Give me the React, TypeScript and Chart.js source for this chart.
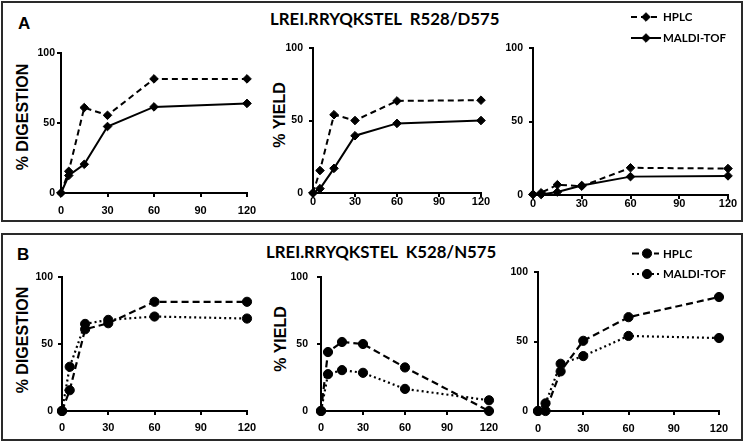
import React, { useEffect, useRef } from "react";
import { Chart, registerables } from "chart.js";

Chart.register(...registerables);

// ---------- data ----------
const times = [0, 5, 15, 30, 60, 120];
const xTickValues = [0, 30, 60, 90, 120];
const yTickValues = [0, 50, 100];
const seriesNames = ["HPLC", "MALDI-TOF"];

const aDigestionHplc = [0, 15.5, 61, 55.5, 81.5, 81.5];
const aDigestionMaldi = [0, 12.5, 20.5, 47.5, 61.5, 64];
const aYieldHplc = [0, 15.5, 54, 50, 63.5, 64];
const aYieldMaldi = [0, 3, 17, 39.5, 48, 50];
const aThirdHplc = [0.5, 1.5, 7, 6, 18.5, 18];
const aThirdMaldi = [0.5, 0.3, 2, 6.5, 12.5, 13];

const bDigestionHplc = [0, 15.5, 61, 65.5, 81.5, 81.5];
const bDigestionMaldi = [0, 33, 65, 68, 70.5, 69];
const bYieldHplc = [0, 44, 51.5, 50, 32.5, 0];
const bYieldMaldi = [0, 27.5, 30.5, 28.5, 16.5, 8];
const bThirdHplc = [0, 0, 28.5, 50.5, 67.5, 82];
const bThirdMaldi = [0, 5.5, 34, 39.5, 54, 52.5];

const panelATitle = "LREI.RRYQKSTEL  R528/D575";
const panelBTitle = "LREI.RRYQKSTEL  K528/N575";
const digestionLabel = "% DIGESTION";
const yieldLabel = "% YIELD";

// ---------- layout / style ----------
const W = 745;
const H = 442;
const YW = 50;
const XH = 25;
const AXIS_FONT = "'Liberation Sans', Arial, sans-serif";
const CAL_FONT = "Lato, 'Open Sans', sans-serif";

const styleA = {
  marker: "rectRot",
  radius: 4.3,
  lineWidth: 2,
  dashes: [[6, 4], []],
};
const styleB = {
  marker: "circle",
  radius: 4.6,
  lineWidth: 2.2,
  dashes: [[7, 4], [2, 3]],
};

const legendA = { rows: [17, 38], x0: 631, x1: 661, xm: 646, tx: 663, size: 11.5 };
const legendB = { rows: [253.5, 274], x0: 632, x1: 659, xm: 647, tx: 663, size: 11.5 };

const specs = [
  { series: [aDigestionHplc, aDigestionMaldi], style: styleA, area: { l: 61, r: 247, t: 53, b: 193 }, yPad: 2, xPad: 8.5, legend: null },
  { series: [aYieldHplc, aYieldMaldi], style: styleA, area: { l: 313, r: 481, t: 48, b: 193 }, yPad: 6, xPad: -1, legend: null },
  { series: [aThirdHplc, aThirdMaldi], style: styleA, area: { l: 533, r: 728, t: 48, b: 195 }, yPad: 6, xPad: -1, legend: legendA },
  { series: [bDigestionHplc, bDigestionMaldi], style: styleB, area: { l: 62, r: 247, t: 277, b: 411 }, yPad: 5, xPad: 7.5, legend: null },
  { series: [bYieldHplc, bYieldMaldi], style: styleB, area: { l: 321, r: 489, t: 277, b: 411 }, yPad: 9, xPad: 7, legend: null },
  { series: [bThirdHplc, bThirdMaldi], style: styleB, area: { l: 538, r: 719, t: 272, b: 411 }, yPad: 6, xPad: 8.5, legend: legendB },
];

function markerPath(ctx: CanvasRenderingContext2D, style: string, r: number, x: number, y: number) {
  ctx.beginPath();
  if (style === "circle") {
    ctx.arc(x, y, r, 0, Math.PI * 2);
  } else {
    ctx.moveTo(x - r, y);
    ctx.lineTo(x, y - r);
    ctx.lineTo(x + r, y);
    ctx.lineTo(x, y + r);
    ctx.closePath();
  }
}

const insetLegend = {
  id: "insetLegend",
  afterDraw(chart: any, _args: any, opts: any) {
    if (!opts || !opts.rows) return;
    const ctx: CanvasRenderingContext2D = chart.ctx;
    chart.data.datasets.forEach((ds: any, i: number) => {
      const y = opts.rows[i];
      ctx.save();
      ctx.strokeStyle = "#000";
      ctx.lineWidth = ds.borderWidth;
      ctx.setLineDash(ds.borderDash || []);
      ctx.beginPath();
      ctx.moveTo(opts.x0, y);
      ctx.lineTo(opts.x1, y);
      ctx.stroke();
      ctx.setLineDash([]);
      ctx.fillStyle = "#000";
      ctx.lineWidth = 1;
      markerPath(ctx, ds.pointStyle, ds.pointRadius, opts.xm, y);
      ctx.fill();
      ctx.stroke();
      ctx.font = `bold ${opts.size}px ${CAL_FONT}`;
      ctx.textBaseline = "alphabetic";
      ctx.textAlign = "left";
      ctx.fillText(ds.label, opts.tx, y + opts.size * 0.358);
      ctx.restore();
    });
  },
};

function makeConfig(spec: any): any {
  const st = spec.style;
  const datasets = spec.series.map((vals: number[], i: number) => ({
    label: seriesNames[i],
    data: times.map((t, k) => ({ x: t, y: vals[k] })),
    borderColor: "#000",
    backgroundColor: "#000",
    borderWidth: st.lineWidth,
    borderDash: st.dashes[i],
    pointStyle: st.marker,
    pointRadius: st.radius,
    pointBorderWidth: 1,
    pointBackgroundColor: "#000",
    pointBorderColor: "#000",
    tension: 0,
    fill: false,
    clip: false,
  }));
  const axisGrid = {
    display: true,
    drawOnChartArea: false,
    drawTicks: true,
    tickLength: 4,
    color: "#000",
    lineWidth: 2,
  };
  const axisBorder = { display: true, color: "#000", width: 2 };
  return {
    type: "line",
    data: { datasets },
    options: {
      animation: false,
      responsive: false,
      events: [],
      layout: {
        padding: {
          left: spec.area.l - YW,
          right: W - spec.area.r,
          top: spec.area.t,
          bottom: H - spec.area.b - XH,
        },
      },
      plugins: {
        legend: { display: false },
        tooltip: { enabled: false },
        title: { display: false },
        insetLegend: spec.legend ? spec.legend : false,
      },
      scales: {
        x: {
          type: "linear",
          min: 0,
          max: 120,
          afterFit: (s: any) => {
            s.height = XH;
          },
          afterBuildTicks: (s: any) => {
            s.ticks = xTickValues.map((v) => ({ value: v }));
          },
          ticks: {
            font: { family: AXIS_FONT, size: 11, weight: "bold", lineHeight: 1 },
            color: "#000",
            padding: spec.xPad,
            maxRotation: 0,
            autoSkip: false,
          },
          grid: axisGrid,
          border: axisBorder,
        },
        y: {
          type: "linear",
          min: 0,
          max: 100,
          afterFit: (s: any) => {
            s.width = YW;
          },
          afterBuildTicks: (s: any) => {
            s.ticks = yTickValues.map((v) => ({ value: v }));
          },
          ticks: {
            font: { family: AXIS_FONT, size: 10.5, weight: "bold", lineHeight: 1 },
            color: "#000",
            padding: spec.yPad,
            autoSkip: false,
          },
          grid: axisGrid,
          border: axisBorder,
        },
      },
    },
    plugins: [insetLegend],
  };
}

function PlotCanvas({ spec }: { spec: any }) {
  const ref = useRef<HTMLCanvasElement>(null);
  useEffect(() => {
    const chart = new Chart(ref.current as HTMLCanvasElement, makeConfig(spec));
    return () => chart.destroy();
  }, [spec]);
  return (
    <canvas
      ref={ref}
      width={W}
      height={H}
      style={{ position: "absolute", left: 0, top: 0, width: W, height: H }}
    />
  );
}

const frame = (top: number, height: number): React.CSSProperties => ({
  position: "absolute",
  left: 1,
  top,
  width: 742,
  height,
  boxSizing: "border-box",
  border: "2px solid #2a2a2a",
});

const letterStyle = (left: number, top: number): React.CSSProperties => ({
  position: "absolute",
  left,
  top,
  fontFamily: AXIS_FONT,
  fontWeight: "bold",
  fontSize: 17,
  lineHeight: 1,
  color: "#000",
});

const titleStyle = (left: number, top: number): React.CSSProperties => ({
  position: "absolute",
  left,
  top,
  fontFamily: CAL_FONT,
  fontWeight: "bold",
  fontSize: 16.8,
  lineHeight: 1,
  whiteSpace: "pre",
  color: "#000",
});

const yTitleStyle = (cx: number, cy: number): React.CSSProperties => ({
  position: "absolute",
  left: cx,
  top: cy,
  transform: "translate(-50%, -50%) rotate(-90deg)",
  fontFamily: AXIS_FONT,
  fontWeight: "bold",
  fontSize: 16,
  lineHeight: 1,
  whiteSpace: "pre",
  color: "#000",
});

export default function App() {
  return (
    <div
      style={{
        position: "absolute",
        left: 0,
        top: 0,
        width: W,
        height: H,
        background: "#fff",
        overflow: "hidden",
      }}
    >
      <div style={frame(1, 221)} />
      <div style={frame(233, 208)} />
      <div style={letterStyle(18, 15)}>A</div>
      <div style={letterStyle(17, 246)}>B</div>
      <div style={titleStyle(270, 11)}>{panelATitle}</div>
      <div style={titleStyle(266, 244)}>{panelBTitle}</div>
      <div style={yTitleStyle(23, 117)}>{digestionLabel}</div>
      <div style={yTitleStyle(280, 115)}>{yieldLabel}</div>
      <div style={yTitleStyle(22.5, 340)}>{digestionLabel}</div>
      <div style={yTitleStyle(281, 339)}>{yieldLabel}</div>
      {specs.map((s, i) => (
        <PlotCanvas key={i} spec={s} />
      ))}
    </div>
  );
}
